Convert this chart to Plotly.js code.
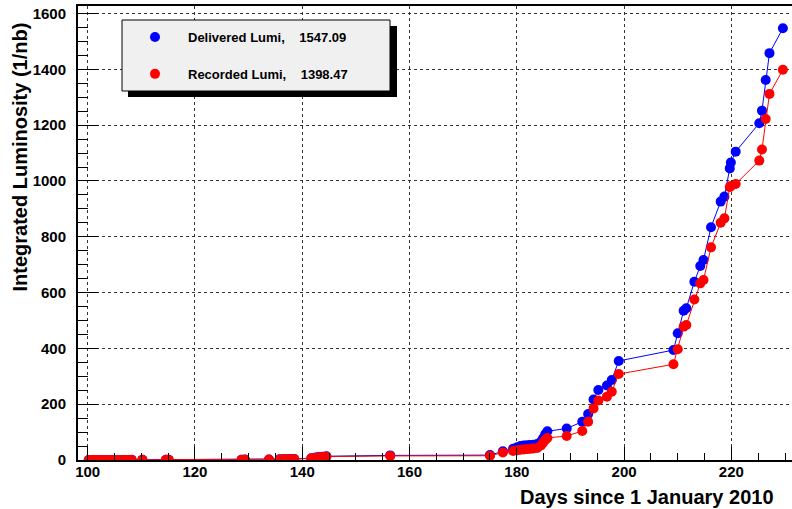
<!DOCTYPE html>
<html>
<head>
<meta charset="utf-8">
<script src="https://cdn.plot.ly/plotly-3.0.1.min.js"></script>
<style>html,body{margin:0;padding:0;background:#fff;}#chart{width:792px;height:509px;}</style>
</head>
<body>
<div id="chart"></div>
<script>
// ---- data ----
var days = [100.2,100.7,101.2,101.7,102.3,102.8,103.4,104.0,104.6,105.2,105.8,106.4,107.0,107.6,108.2,110.2,
            114.6,115.1,128.7,129.3,133.8,135.8,136.5,137.1,137.8,138.5,141.7,142.3,142.8,143.3,143.9,144.5,
            156.4,175.0,177.4,179.3,180.1,180.7,181.3,181.9,182.5,183.1,183.8,184.5,184.9,185.3,185.7,
            189.3,192.2,193.3,194.3,195.2,196.8,197.7,199.0,209.2,210.0,211.1,211.6,213.1,214.2,214.8,
            216.2,218.0,218.7,219.7,219.9,220.8,225.2,225.7,226.4,227.1,229.6];
var delivered = [0.01,0.02,0.04,0.06,0.08,0.1,0.13,0.16,0.2,0.24,0.28,0.33,0.38,0.43,0.5,0.6,
                 0.9,1.0,1.3,1.5,1.9,2.4,2.7,3.0,3.4,3.8,6.5,8.0,9.5,10.8,12.0,13.5,
                 16.5,17.5,31,40,46,50,52,53,54,55,57,66,78,92,103,
                 113,137,165,217,251,267,287,355,394,454,535,544,639,695,717,
                 834,926,944,1045,1066,1105,1207,1252,1362,1458,1547.09];
var recorded = [0.01,0.02,0.03,0.05,0.07,0.09,0.11,0.14,0.18,0.21,0.25,0.29,0.34,0.38,0.44,0.53,
                0.8,0.9,1.1,1.3,1.7,2.1,2.4,2.7,3.0,3.4,5.8,7.1,8.5,9.6,10.7,12.0,
                14.6,15.2,27,32,35,37,38,39,40,41,43,52,62,72,79,
                86,104,137,185,213,227,245,308,343,397,478,484,575,633,645,
                762,850,866,978,982,989,1073,1113,1222,1312,1398.47];
var seriesNames = ["Delivered Lumi,", "Recorded Lumi,"];
var seriesTotals = ["1547.09", "1398.47"];
var seriesColors = ["#0000ff", "#ff0000"];
var xTitle = "Days since 1 January 2010";
var yTitle = "Integrated Luminosity (1/nb)";

// ---- layout helpers (pixel -> paper) ----
var W = 792, H = 509, ML = 78, MR = 0, MT = 6, MB = 49;
var PW = W - ML - MR, PH = H - MT - MB;
function px(x){ return (x - ML) / PW; }
function py(y){ return (H - MB - y) / PH; }

var FONT = "Liberation Sans, Arial, Helvetica, sans-serif";
var NB = "\u00a0";
function label(i){ return "<b>" + seriesNames[i] + NB+NB+NB+NB + seriesTotals[i] + "</b>"; }

var series = [delivered, recorded];
var traces = [];
// data traces (line + markers), legend hidden
series.forEach(function(vals, i){
  traces.push({x: days, y: vals, type: "scatter", mode: "lines+markers", name: seriesNames[i],
    showlegend: false, line: {color: seriesColors[i], width: 1},
    marker: {color: seriesColors[i], size: 10, symbol: "circle"}});
});
// legend entries (marker only, like the reference legend)
series.forEach(function(vals, i){
  traces.push({x: [null], y: [null], type: "scatter", mode: "markers", name: label(i),
    legendgroup: "g" + i, showlegend: true,
    marker: {color: seriesColors[i], size: 10, symbol: "circle"}});
});

var layout = {
  width: W, height: H,
  margin: {l: ML, r: MR, t: MT, b: MB, pad: 0},
  paper_bgcolor: "#ffffff", plot_bgcolor: "#ffffff",
  font: {family: FONT, color: "#000"},
  showlegend: true,
  legend: {x: px(122), y: py(22), xanchor: "left", yanchor: "top",
           bgcolor: "rgba(0,0,0,0)", borderwidth: 0,
           font: {family: FONT, size: 13, color: "#000"},
           itemwidth: 56, traceorder: "grouped", tracegroupgap: 17},
  xaxis: {range: [98.2, 231.3], showline: true, linecolor: "#000", linewidth: 2, mirror: true,
          ticks: "inside", ticklen: 13, tickwidth: 1, tickcolor: "#000", dtick: 20, tick0: 100,
          showgrid: true, gridcolor: "#333", griddash: "dot", gridwidth: 1, zeroline: false,
          tickfont: {family: FONT, size: 15, color: "#000", weight: "bold"},
          ticklabelstandoff: -3,
          minor: {dtick: 5, ticks: "inside", ticklen: 7, tickcolor: "#000", showgrid: false}},
  yaxis: {range: [0, 1627], showline: true, linecolor: "#000", linewidth: 2, mirror: false,
          ticks: "inside", ticklen: 20, tickwidth: 1, tickcolor: "#000", dtick: 200, tick0: 0,
          showgrid: true, gridcolor: "#333", griddash: "dot", gridwidth: 1, zeroline: false,
          tickfont: {family: FONT, size: 15, color: "#000", weight: "bold"},
          ticklabelstandoff: 7,
          minor: {dtick: 50, ticks: "inside", ticklen: 10, tickcolor: "#000", showgrid: false}},
  shapes: [
    {type: "rect", xref: "paper", yref: "paper", x0: px(128), x1: px(397), y0: py(97), y1: py(26),
     fillcolor: "#000", line: {width: 0}, layer: "above"},
    {type: "rect", xref: "paper", yref: "paper", x0: px(122), x1: px(390), y0: py(91), y1: py(20),
     fillcolor: "#f0f0f0", line: {color: "#000", width: 1}, layer: "above"}
  ],
  annotations: [
    {text: "<b>" + xTitle + "</b>", xref: "paper", yref: "paper", x: px(776), y: py(497),
     xanchor: "right", yanchor: "middle", showarrow: false,
     font: {family: FONT, size: 20, color: "#000"}},
    {text: "<b>" + yTitle + "</b>", xref: "paper", yref: "paper", x: px(19), y: py(21),
     xanchor: "center", yanchor: "top", textangle: -90, showarrow: false,
     font: {family: FONT, size: 20, color: "#000"}}
  ]
};

Plotly.newPlot("chart", traces, layout, {staticPlot: true, displayModeBar: false});
</script>
</body>
</html>
